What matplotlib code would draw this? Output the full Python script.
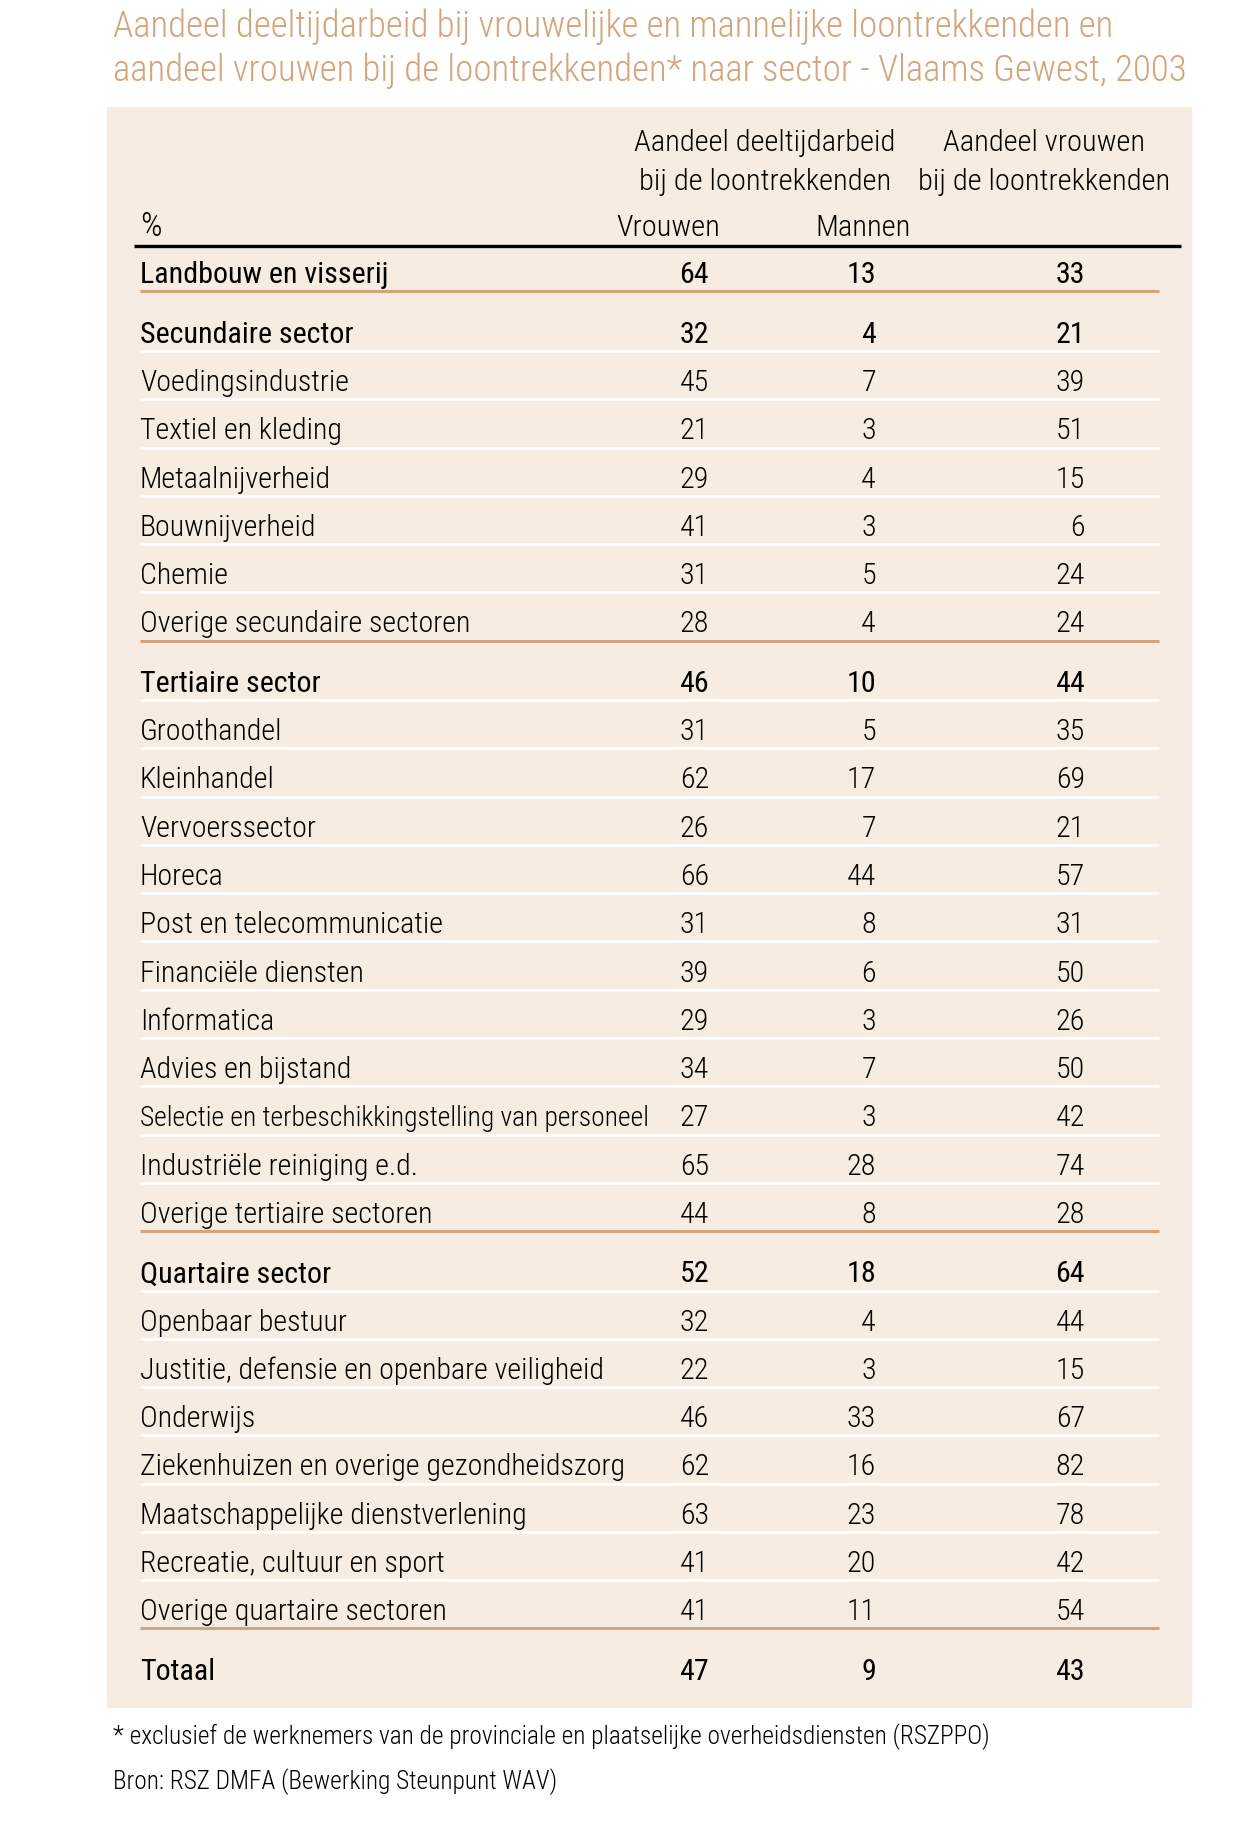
import matplotlib
matplotlib.use("Agg")
import matplotlib.pyplot as plt
from matplotlib import font_manager as fm

# ── data ──────────────────────────────────────────────────────────────────────
TITLE_1 = "Aandeel deeltijdarbeid bij vrouwelijke en mannelijke loontrekkenden en"
TITLE_2 = "aandeel vrouwen bij de loontrekkenden* naar sector - Vlaams Gewest, 2003"
HEAD_DEELTIJD = ["Aandeel deeltijdarbeid", "bij de loontrekkenden"]
HEAD_AANDEEL = ["Aandeel vrouwen", "bij de loontrekkenden"]
COL_LABELS = ["Vrouwen", "Mannen"]
FOOTNOTE = "* exclusief de werknemers van de provinciale en plaatselijke overheidsdiensten (RSZPPO)"
SOURCE = "Bron: RSZ DMFA (Bewerking Steunpunt WAV)"

labels = [
    "Landbouw en visserij",
    "Secundaire sector", "Voedingsindustrie", "Textiel en kleding", "Metaalnijverheid",
    "Bouwnijverheid", "Chemie", "Overige secundaire sectoren",
    "Tertiaire sector", "Groothandel", "Kleinhandel", "Vervoerssector", "Horeca",
    "Post en telecommunicatie", "Financiële diensten", "Informatica", "Advies en bijstand",
    "Selectie en terbeschikkingstelling van personeel", "Industriële reiniging e.d.",
    "Overige tertiaire sectoren",
    "Quartaire sector", "Openbaar bestuur", "Justitie, defensie en openbare veiligheid",
    "Onderwijs", "Ziekenhuizen en overige gezondheidszorg", "Maatschappelijke dienstverlening",
    "Recreatie, cultuur en sport", "Overige quartaire sectoren",
    "Totaal",
]
deeltijd_vrouwen = [64, 32, 45, 21, 29, 41, 31, 28, 46, 31, 62, 26, 66, 31, 39, 29, 34, 27, 65, 44,
                    52, 32, 22, 46, 62, 63, 41, 41, 47]
deeltijd_mannen = [13, 4, 7, 3, 4, 3, 5, 4, 10, 5, 17, 7, 44, 8, 6, 3, 7, 3, 28, 8,
                   18, 4, 3, 33, 16, 23, 20, 11, 9]
aandeel_vrouwen = [33, 21, 39, 51, 15, 6, 24, 24, 44, 35, 69, 21, 57, 31, 50, 26, 50, 42, 74, 28,
                   64, 44, 15, 67, 82, 78, 42, 54, 43]
group_id = [0, 1, 1, 1, 1, 1, 1, 1, 2, 2, 2, 2, 2, 2, 2, 2, 2, 2, 2, 2,
            3, 3, 3, 3, 3, 3, 3, 3, 4]

# ── fonts ─────────────────────────────────────────────────────────────────────
installed = {f.name for f in fm.fontManager.ttflist}
CANDIDATES = ["Roboto Condensed", "Archivo Narrow", "PT Sans Narrow", "Fira Sans Condensed",
              "IBM Plex Sans Condensed", "Liberation Sans Narrow", "Barlow Condensed",
              "Sofia Sans Condensed", "Roboto"]
FAMILY = next(c for c in CANDIDATES if c in installed)
plt.rcParams["font.family"] = [FAMILY, "DejaVu Sans"]

TAN = "#d3a57c"
PANEL = "#f6ece2"

W, H = 1246, 1826
fig = plt.figure(figsize=(W / 100, H / 100), dpi=100)
ax = fig.add_axes([0, 0, 1, 1])
ax.set_xlim(0, W)
ax.set_ylim(H, 0)
ax.axis("off")
renderer = fig.canvas.get_renderer()


def fit_size(s, target_px, weight="normal", cap=40):
    t = fig.text(0, 0, s, fontsize=20, fontweight=weight)
    w = t.get_window_extent(renderer).width
    t.remove()
    return min(cap, 20 * target_px / w)


LIGHT = "light"
HEAVY = "normal"

FS = fit_size("Ziekenhuizen en overige gezondheidszorg", 484, LIGHT, cap=24)
LONG = "Selectie en terbeschikkingstelling van personeel"
FS_LONG = min(FS, fit_size(LONG, 508, LIGHT, cap=24))   # squeezed in the source too
FS_HEAD = fit_size(HEAD_DEELTIJD[0], 260, LIGHT, cap=24)
FS_TITLE = fit_size(TITLE_1, 1001, LIGHT, cap=32)
FS_FOOT = fit_size(FOOTNOTE, 875, LIGHT, cap=22)

# panel
ax.add_patch(plt.Rectangle((107, 107), 1084, 1600, color=PANEL, zorder=0))

# title
ax.text(113, 27, TITLE_1, color=TAN, fontsize=FS_TITLE, va="center", ha="left", fontweight=LIGHT)
ax.text(113, 71, TITLE_2, color=TAN, fontsize=FS_TITLE, va="center", ha="left", fontweight=LIGHT)

X_LABEL = 140
X_COLS = [709, 876, 1085]
LINE_X0, LINE_X1 = 140, 1159
CAP = FS * 100 / 72 * 0.36        # half cap height in px
CAP_H = FS_HEAD * 100 / 72 * 0.36

# header
for k, s in enumerate(HEAD_DEELTIJD):
    ax.text(765, 140 + 39 * k + CAP_H, s, fontsize=FS_HEAD, ha="center", va="baseline", fontweight=LIGHT)
for k, s in enumerate(HEAD_AANDEEL):
    ax.text(1044, 140 + 39 * k + CAP_H, s, fontsize=FS_HEAD, ha="center", va="baseline", fontweight=LIGHT)
ax.text(X_LABEL, 225 + CAP_H, "%", fontsize=FS_HEAD * 1.1, ha="left", va="baseline", fontweight=LIGHT)
ax.text(668, 225 + CAP_H, COL_LABELS[0], fontsize=FS_HEAD, ha="center", va="baseline", fontweight=LIGHT)
ax.text(863, 225 + CAP_H, COL_LABELS[1], fontsize=FS_HEAD, ha="center", va="baseline", fontweight=LIGHT)
ax.plot([134, 1181], [246, 246], color="black", lw=2.4, solid_capstyle="butt")

# rows
PITCH = 48.27
GAP = 59.5
y = 272.5
for i, lab in enumerate(labels):
    if i > 0:
        y += GAP if group_id[i] != group_id[i - 1] else PITCH
    heading = i == 0 or group_id[i] != group_id[i - 1]
    wt = HEAVY if heading else LIGHT
    base = y + CAP
    ax.text(X_LABEL, base, lab, fontsize=FS_LONG if lab == LONG else FS,
            ha="left", va="baseline", fontweight=wt)
    for xc, vals in zip(X_COLS, (deeltijd_vrouwen, deeltijd_mannen, aandeel_vrouwen)):
        ax.text(xc, base, str(vals[i]), fontsize=FS, ha="right", va="baseline", fontweight=wt)
    if i == len(labels) - 1:
        continue
    end_of_group = group_id[i + 1] != group_id[i]
    ax.plot([LINE_X0, LINE_X1], [y + 19, y + 19], color=TAN if end_of_group else "white",
            lw=2.2 if end_of_group else 2.0, solid_capstyle="butt")

# footer
ax.text(113, 1737, FOOTNOTE, fontsize=FS_FOOT, ha="left", va="center", fontweight=LIGHT)
ax.text(113, 1782, SOURCE, fontsize=FS_FOOT, ha="left", va="center", fontweight=LIGHT)

fig.savefig("out.png", dpi=100)
